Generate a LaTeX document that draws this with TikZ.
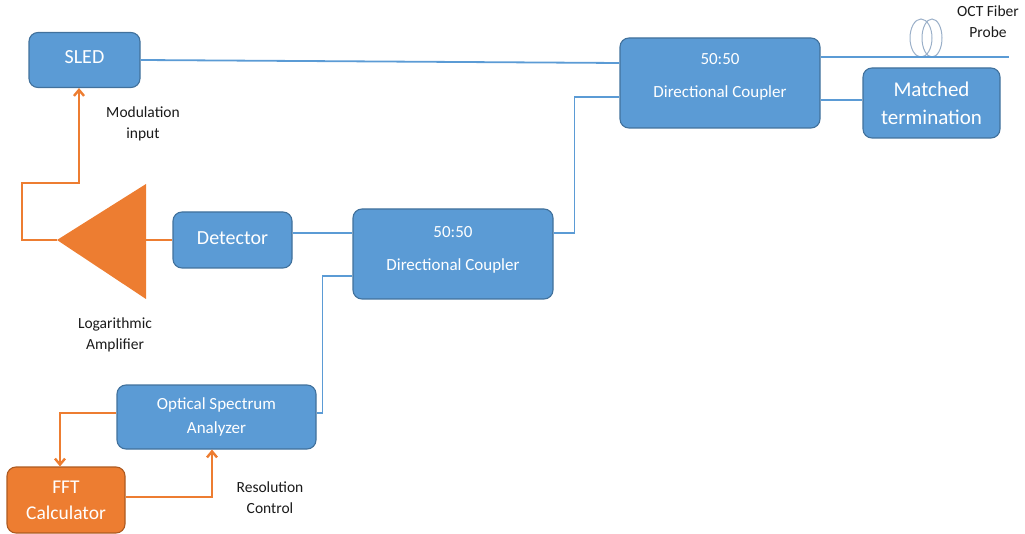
\documentclass[tikz,border=0pt]{standalone}
\usepackage{fontspec}
\setmainfont{Carlito}
\usetikzlibrary{arrows.meta,calc}
\definecolor{bfill}{HTML}{5B9BD5}
\definecolor{bdraw}{HTML}{41719C}
\definecolor{ofill}{HTML}{ED7D31}
\definecolor{odraw}{HTML}{AE5A21}
\definecolor{lab}{HTML}{1A1A1A}
\definecolor{fib}{HTML}{9AAFC8}
\begin{document}
\begin{tikzpicture}[x=1pt,y=-1pt,
  bbox/.style={draw=bdraw, fill=bfill, line width=1.1pt, rounded corners=9pt, text=white, align=center, inner sep=0pt},
  obox/.style={bbox, draw=odraw, fill=ofill},
  btext/.style={text=white, align=center, inner sep=0pt},
  bline/.style={draw=bfill, line width=1.8pt},
  oline/.style={draw=ofill, line width=2.4pt},
  oarrow/.style={oline, -{Straight Barb[length=6pt,width=10pt]}},
  lbl/.style={text=lab, align=center, inner sep=0pt, font=\fontsize{15.5}{21}\selectfont}
]
\useasboundingbox (0,0) rectangle (1025,534);

% boxes
\node[bbox, minimum width=111pt, minimum height=55pt, font=\fontsize{20}{24}\selectfont] (sled) at (84.5,60) {\raisebox{5pt}{SLED}};
\node[bbox, minimum width=200pt, minimum height=90pt] (dc1) at (720,83) {};
\node[btext, font=\fontsize{17}{20}\selectfont] (dc1t) at ([yshift=6.5pt]dc1.center) {50:50\\[13pt]Directional Coupler};
\node[bbox, minimum width=137pt, minimum height=70pt, font=\fontsize{21}{28}\selectfont] (mt) at (931.5,103) {Matched\\termination};
\node[bbox, minimum width=200pt, minimum height=90pt] (dc2) at (453,254) {};
\node[btext, font=\fontsize{17}{20}\selectfont] (dc2t) at ([yshift=4.5pt]dc2.center) {50:50\\[13pt]Directional Coupler};
\node[bbox, minimum width=119pt, minimum height=56pt, font=\fontsize{20}{24}\selectfont] (det) at (232.5,240) {\raisebox{4pt}{Detector}};
\node[bbox, minimum width=199pt, minimum height=64pt, font=\fontsize{17}{24}\selectfont] (osa) at (216.5,417) {Optical Spectrum\\Analyzer};
\node[obox, minimum width=118pt, minimum height=66pt, font=\fontsize{19.5}{26}\selectfont] (fft) at (66,500) {FFT\\Calculator};

% amplifier
\coordinate (amptip) at (57,240);
\coordinate (ampbase) at (146,240);
\fill[ofill] (146,184) -- (146,299) -- (amptip) -- cycle;

% fiber probe
\coordinate (fibend) at (1009,57);
\draw[fib, line width=1pt] (921,38) ellipse [x radius=11, y radius=19];
\draw[fib, line width=1pt] (932,38) ellipse [x radius=10, y radius=19];

% blue connectors
\draw[bline] (sled.east) -- ([yshift=20pt]dc1.west);
\draw[bline] ([yshift=26pt]dc1.east) -- (fibend);
\draw[bline] ([yshift=-17pt]dc1.east) -- ([yshift=3pt]mt.west);
\draw[bline] ([yshift=-14pt]dc1.west) -- ++(-45,0) |- ([yshift=21pt]dc2.east);
\draw[bline] ([yshift=7pt]det.east) -- ([yshift=21pt]dc2.west);
\draw[bline] ([yshift=-22pt]dc2.west) -- ++(-30,0) |- ([yshift=4pt]osa.east);

% orange connectors
\draw[oline] (det.west) -- (ampbase);
\draw[oarrow] (amptip) -- (22,240) -- (22,183) -- (79,183) -- ([xshift=-5.5pt]sled.south);
\draw[oarrow] ([yshift=4pt]osa.west) -| ([xshift=-6pt]fft.north);
\draw[oarrow] ([yshift=3pt]fft.east) -| ([xshift=-4.5pt]osa.south);

% labels
\node[lbl] (modl) at (143,124) {Modulation\\input};
\node[lbl] (ampl) at (115,335) {Logarithmic\\Amplifier};
\node[lbl] (resl) at (270,498) {Resolution\\Control};
\node[lbl] (octl) at (988,22) {OCT Fiber\\Probe};
\end{tikzpicture}
\end{document}
